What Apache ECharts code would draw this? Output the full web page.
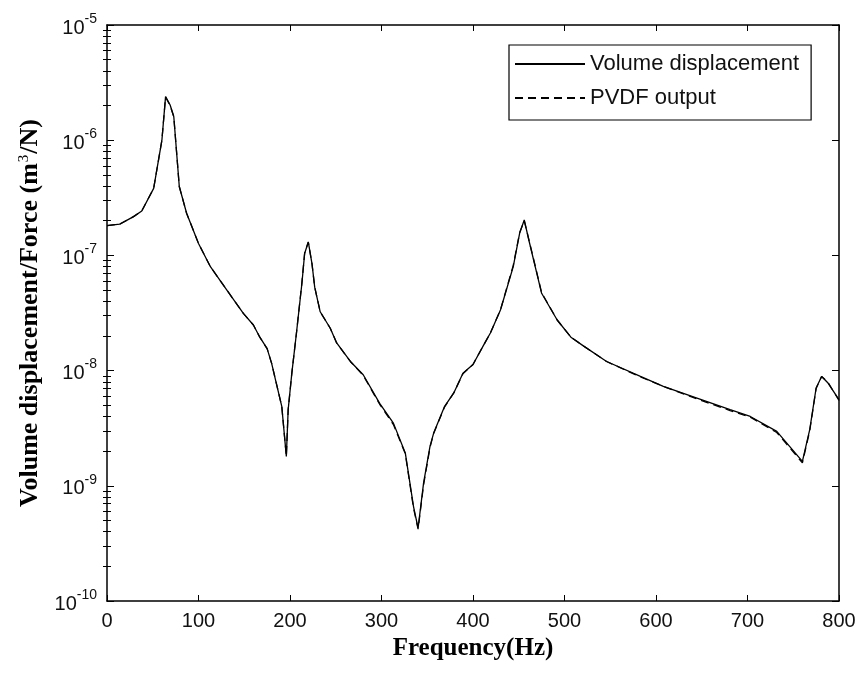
<!DOCTYPE html>
<html>
<head>
<meta charset="utf-8">
<script src="https://cdn.jsdelivr.net/npm/echarts@6/dist/echarts.min.js"></script>
<style>html,body{margin:0;padding:0;background:#fff}#c{width:861px;height:673px}</style>
</head>
<body>
<div id="c"></div>
<script>
const freq = [0,14,29,38,51,60,64,69,73,79,87,100,113,131,149,160,167,175,180,185,191,196,198,202,207,213,216,220,224,227,233,244,251,266,280,298,313,326,335,340,346,353,357,369,379,389,400,411,419,430,444,451,456,461,475,492,507,521,546,583,608,644,681,703,732,746,760,768,775,781,788,800];
const volumeDisp = [1.81e-7,1.87e-7,2.17e-7,2.43e-7,3.82e-7,1.0e-6,2.39e-6,2.02e-6,1.6e-6,3.96e-7,2.32e-7,1.27e-7,7.98e-8,5.0e-8,3.14e-8,2.49e-8,1.95e-8,1.55e-8,1.15e-8,7.8e-9,4.9e-9,1.8e-9,4.57e-9,9.5e-9,2.1e-8,5.7e-8,1.04e-7,1.31e-7,8.5e-8,5.3e-8,3.24e-8,2.33e-8,1.74e-8,1.2e-8,9.2e-9,5.2e-9,3.5e-9,1.93e-9,6.6e-10,4.3e-10,1.06e-9,2.2e-9,2.87e-9,4.9e-9,6.4e-9,9.5e-9,1.13e-8,1.63e-8,2.12e-8,3.36e-8,8.0e-8,1.56e-7,2.03e-7,1.36e-7,4.69e-8,2.75e-8,1.95e-8,1.63e-8,1.2e-8,8.9e-9,7.3e-9,5.8e-9,4.58e-9,4.0e-9,2.97e-9,2.2e-9,1.63e-9,3.07e-9,7.06e-9,8.9e-9,7.8e-9,5.6e-9];
const pvdfOutput = [1.81e-7,1.87e-7,2.17e-7,2.43e-7,3.82e-7,1.0e-6,2.37e-6,2.0e-6,1.6e-6,3.96e-7,2.32e-7,1.27e-7,7.98e-8,5.0e-8,3.14e-8,2.49e-8,1.95e-8,1.55e-8,1.15e-8,7.8e-9,4.9e-9,1.8e-9,4.57e-9,9.5e-9,2.1e-8,5.8e-8,1.05e-7,1.3e-7,8.5e-8,5.3e-8,3.24e-8,2.33e-8,1.74e-8,1.2e-8,9.1e-9,5.1e-9,3.4e-9,1.9e-9,6.4e-10,4.2e-10,1.02e-9,2.15e-9,2.85e-9,4.85e-9,6.4e-9,9.4e-9,1.13e-8,1.63e-8,2.12e-8,3.36e-8,8.2e-8,1.58e-7,2.0e-7,1.38e-7,4.75e-8,2.75e-8,1.95e-8,1.63e-8,1.2e-8,8.8e-9,7.3e-9,5.7e-9,4.5e-9,3.95e-9,2.9e-9,2.15e-9,1.58e-9,3.0e-9,7.0e-9,8.9e-9,7.9e-9,5.5e-9];
const xTicks = [0,100,200,300,400,500,600,700,800];

const volPairs = freq.map((f,i)=>[f, volumeDisp[i]]);
const pvdfPairs = freq.map((f,i)=>[f, pvdfOutput[i]]);
const minorVals = [];
for (let d = -10; d < -5; d++) for (let k = 2; k <= 9; k++) minorVals.push(d + Math.log10(k));

const SANS = '"Liberation Sans", Arial, sans-serif';
const SERIF = '"Liberation Serif", "Times New Roman", serif';
const lineCol = '#000';

const chart = echarts.init(document.getElementById('c'), null, {renderer:'canvas'});
const minorAxis = (pos) => ({
  type:'value', min:-10, max:-5, position:pos,
  axisLine:{show:false}, axisLabel:{show:false}, splitLine:{show:false},
  axisTick:{show:true, inside:true, length:4, customValues:minorVals, lineStyle:{color:lineCol, width:1}}
});
chart.setOption({
  animation:false,
  backgroundColor:'#fff',
  grid:{left:107, right:22, top:25, bottom:72, containLabel:false},
  legend:{
    orient:'vertical', left:509, top:45,
    data:['Volume displacement','PVDF output'],
    itemWidth:70, itemHeight:22, itemGap:12,
    padding:[8,12,11,5],
    borderColor:'#000', borderWidth:1.2, borderRadius:0,
    backgroundColor:'#fff',
    itemStyle:{color:'rgba(0,0,0,0)', borderColor:'rgba(0,0,0,0)', borderWidth:0, opacity:0},
    textStyle:{fontFamily:SANS, fontSize:22, color:'#111', lineHeight:22},
    selectedMode:false
  },
  xAxis:[{
    type:'value', min:0, max:800, interval:100, position:'bottom',
    name:'Frequency(Hz)', nameLocation:'middle', nameGap:26,
    nameTextStyle:{fontFamily:SERIF, fontWeight:'bold', fontSize:25, color:'#000'},
    axisLine:{show:true, onZero:false, lineStyle:{color:lineCol, width:1.5}},
    axisTick:{show:true, inside:true, length:6, lineStyle:{color:lineCol, width:1}},
    axisLabel:{fontFamily:SANS, fontSize:20, color:'#111', margin:10, customValues:xTicks},
    splitLine:{show:false}
  },{
    type:'value', min:0, max:800, interval:100, position:'top',
    axisLine:{show:true, onZero:false, lineStyle:{color:lineCol, width:1.5}},
    axisTick:{show:true, inside:true, length:6, lineStyle:{color:lineCol, width:1}},
    axisLabel:{show:false}, splitLine:{show:false}
  }],
  yAxis:[{
    type:'log', logBase:10, min:1e-10, max:1e-5, interval:1, position:'left',
    name:'Volume displacement/Force (m{sup|3}/N)', nameLocation:'middle', nameGap:64, nameRotate:90,
    nameTextStyle:{fontFamily:SERIF, fontWeight:'bold', fontSize:26, color:'#000',
      rich:{sup:{fontFamily:SERIF, fontWeight:'normal', fontSize:15, color:'#000', verticalAlign:'top', padding:[0,1,0,1]}}},
    axisLine:{show:true, onZero:false, lineStyle:{color:lineCol, width:1.5}},
    axisTick:{show:true, inside:true, length:7, lineStyle:{color:lineCol, width:1}},
    axisLabel:{
      margin:10,
      formatter:function(v){ const e = Math.round(Math.log10(v)); return '{b|10}{s|' + e + '}'; },
      rich:{
        b:{fontFamily:SANS, fontSize:20, color:'#111', lineHeight:26, verticalAlign:'bottom'},
        s:{fontFamily:SANS, fontSize:14, color:'#111', verticalAlign:'top'}
      }
    },
    splitLine:{show:false}
  },{
    type:'log', logBase:10, min:1e-10, max:1e-5, interval:1, position:'right',
    axisLine:{show:true, onZero:false, lineStyle:{color:lineCol, width:1.5}},
    axisTick:{show:true, inside:true, length:7, lineStyle:{color:lineCol, width:1}},
    axisLabel:{show:false}, splitLine:{show:false}
  }, minorAxis('left'), minorAxis('right')],
  series:[{
    name:'Volume displacement', type:'line', data:volPairs, xAxisIndex:0, yAxisIndex:0,
    symbol:'none', showSymbol:false, smooth:false,
    lineStyle:{color:'#000', width:1.3, type:'solid'}, itemStyle:{color:'#000'}
  },{
    name:'PVDF output', type:'line', data:pvdfPairs, xAxisIndex:0, yAxisIndex:0,
    symbol:'none', showSymbol:false, smooth:false,
    lineStyle:{color:'#000', width:1.3, type:[8,5]}, itemStyle:{color:'#000'}
  }]
});
</script>
</body>
</html>
